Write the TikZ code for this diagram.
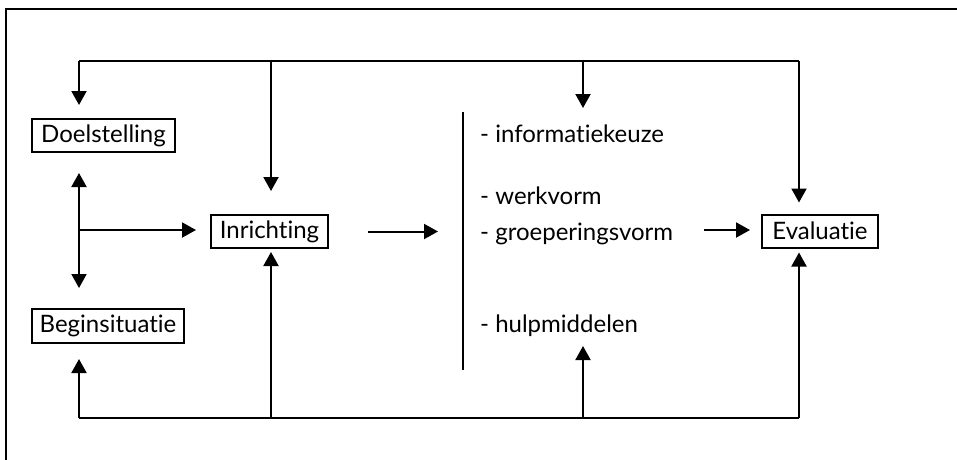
\documentclass[tikz,border=0pt]{standalone}
\usepackage{fontspec}
\setmainfont{Lato}[Ligatures=NoCommon]
\usetikzlibrary{arrows.meta,calc}
\begin{document}
\begin{tikzpicture}[x=1pt,y=-1pt,
  line/.style={line width=2pt},
  arr/.style={line width=2pt,-{Triangle[length=14pt,width=15pt]}},
  boxnode/.style={draw,line width=2pt,inner sep=0pt,font=\fontsize{24}{26}\selectfont,anchor=center},
  item/.style={anchor=base west,inner sep=0pt,font=\fontsize{24}{26}\selectfont}]
\useasboundingbox (0,0) rectangle (957,459);
\draw[line width=2.5pt] (961,9) -- (6,9) -- (6,465);
% boxes
\node[boxnode,minimum width=143pt,minimum height=33pt] (doel) at (103.5,135.5) {Doelstelling};
\node[boxnode,minimum width=152pt,minimum height=34pt] (begin) at (108,326) {Beginsituatie};
\node[boxnode,minimum width=117pt,minimum height=33pt] (inr) at (269.5,231.5) {Inrichting};
\node[boxnode,minimum width=116pt,minimum height=33pt] (eval) at (820,231) {Evaluatie};
% list
\node[item] (info) at (480,142) {- informatiekeuze};
\node[item] (werk) at (480,204) {- werkvorm};
\node[item] (groep) at (480,240) {- groeperingsvorm};
\node[item] (hulp) at (480,332) {- hulpmiddelen};
% coordinates
\coordinate (tl) at (79,61);
\coordinate (tI) at (271,61);
\coordinate (tH) at (583,61);
\coordinate (tr) at (799,61);
\coordinate (bl) at (79,418);
\coordinate (bI) at (271,418);
\coordinate (bH) at (583,418);
\coordinate (br) at (799,418);
\coordinate (m) at (79,230);
\coordinate (vl1) at (463,112);
\coordinate (vl2) at (463,370);
\coordinate (infotip) at (583,108);
\coordinate (hulptip) at (583,346);
\coordinate (gstart) at (704,230);
% lines
\draw[line] (tl) -- (tr);
\draw[line] (bl) -- (br);
\draw[line width=1.5pt] (vl1) -- (vl2);
% arrows from top
\draw[arr,shorten >=13pt] (tl) -- (tl |- doel.north);
\draw[arr,shorten >=23pt] (tI) -- (tI |- inr.north);
\draw[arr] (tH) -- (infotip);
\draw[arr,shorten >=11pt] (tr) -- (tr |- eval.north);
% branch
\draw[arr,shorten >=20pt] (m) -- (m |- doel.south);
\draw[arr,shorten >=20pt] (m) -- (m |- begin.north);
\draw[arr,shorten >=14pt] (m) -- (m -| inr.west);
% arrows from bottom
\draw[arr,shorten >=15pt] (bl) -- (bl |- begin.south);
\draw[arr,shorten >=3pt] (bI) -- (bI |- inr.south);
\draw[arr] (bH) -- (hulptip);
\draw[arr,shorten >=4pt] (br) -- (br |- eval.south);
% horizontal arrows
\draw[arr,shorten <=39pt,shorten >=25pt] (inr.east) -- (vl1 |- inr.east);
\draw[arr,shorten >=11pt] (gstart) -- (gstart -| eval.west);
\end{tikzpicture}
\end{document}
